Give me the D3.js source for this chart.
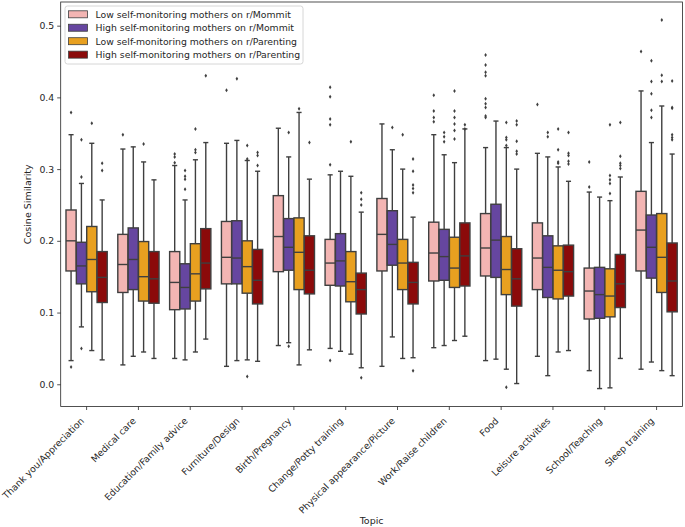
<!DOCTYPE html>
<html>
<head>
<meta charset="utf-8">
<script src="https://cdn.jsdelivr.net/npm/d3@7/dist/d3.min.js"></script>
<style>
  html, body { margin: 0; padding: 0; background: #fff; }
  text { font-family: "DejaVu Sans", sans-serif; fill: #262626; }
</style>
</head>
<body>
<svg id="chart" width="685" height="527"></svg>
<script>
// ---------- DATA ----------
const topics = ["Thank you/Appreciation", "Medical care", "Education/Family advice", "Furniture/Design",
  "Birth/Pregnancy", "Change/Potty training", "Physical appearance/Picture", "Work/Raise children",
  "Food", "Leisure activities", "School/Teaching", "Sleep training"];

const seriesNames = ["Low self-monitoring mothers on r/Mommit", "High self-monitoring mothers on r/Mommit",
  "Low self-monitoring mothers on r/Parenting", "High self-monitoring mothers on r/Parenting"];

const seriesColors = ["#f3b5b3", "#6646a0", "#e8a020", "#8b0a0a"];

const yTicks = [0.0, 0.1, 0.2, 0.3, 0.4, 0.5];

// [lower whisker, Q1, median, Q3, upper whisker] per topic
const lowMommit = [
  [0.033, 0.158, 0.200, 0.243, 0.348], [0.027, 0.128, 0.167, 0.209, 0.328], [0.036, 0.104, 0.142, 0.185, 0.305],
  [0.025, 0.140, 0.177, 0.227, 0.336], [0.054, 0.157, 0.206, 0.263, 0.357], [0.050, 0.138, 0.169, 0.202, 0.292],
  [0.025, 0.158, 0.209, 0.259, 0.363], [0.051, 0.144, 0.183, 0.226, 0.348], [0.033, 0.151, 0.190, 0.238, 0.330],
  [0.039, 0.132, 0.176, 0.225, 0.322], [0.019, 0.091, 0.130, 0.162, 0.268], [0.021, 0.158, 0.215, 0.269, 0.409]];
const highMommit = [
  [0.080, 0.140, 0.165, 0.198, 0.280], [0.039, 0.132, 0.174, 0.218, 0.331], [0.034, 0.105, 0.135, 0.168, 0.257],
  [0.033, 0.140, 0.176, 0.228, 0.340], [0.058, 0.159, 0.191, 0.231, 0.317], [0.046, 0.137, 0.172, 0.210, 0.297],
  [0.066, 0.166, 0.195, 0.242, 0.327], [0.054, 0.145, 0.178, 0.216, 0.320], [0.035, 0.149, 0.201, 0.251, 0.367],
  [0.012, 0.121, 0.163, 0.207, 0.317], [-0.006, 0.092, 0.125, 0.163, 0.261], [0.031, 0.148, 0.191, 0.236, 0.337]];
const lowParenting = [
  [0.047, 0.129, 0.174, 0.220, 0.336], [0.045, 0.116, 0.150, 0.199, 0.310], [0.045, 0.116, 0.154, 0.196, 0.313],
  [0.034, 0.127, 0.164, 0.200, 0.312], [0.027, 0.132, 0.184, 0.232, 0.379], [0.042, 0.115, 0.143, 0.185, 0.290],
  [0.036, 0.132, 0.169, 0.202, 0.300], [0.061, 0.135, 0.162, 0.205, 0.309], [0.021, 0.125, 0.160, 0.206, 0.330],
  [0.045, 0.119, 0.159, 0.193, 0.303], [-0.005, 0.094, 0.123, 0.161, 0.256], [0.019, 0.128, 0.177, 0.238, 0.388]];
const highParenting = [
  [0.034, 0.114, 0.149, 0.185, 0.257], [0.036, 0.113, 0.147, 0.185, 0.285], [0.063, 0.133, 0.169, 0.217, 0.337],
  [0.032, 0.112, 0.145, 0.188, 0.297], [0.048, 0.126, 0.159, 0.207, 0.286], [0.023, 0.098, 0.132, 0.155, 0.240],
  [0.037, 0.112, 0.142, 0.170, 0.233], [0.067, 0.137, 0.179, 0.225, 0.356], [0.001, 0.109, 0.147, 0.189, 0.300],
  [0.047, 0.123, 0.157, 0.194, 0.283], [0.036, 0.107, 0.140, 0.181, 0.289], [0.012, 0.101, 0.144, 0.197, 0.321]];

// outliers per topic
const lowMommitOut = [[0.379, 0.024], [0.348], [0.321, 0.317, 0.309], [0.410], [], [0.414, 0.401, 0.370, 0.362, 0.306, 0.033],
  [], [0.403, 0.381, 0.372, 0.366], [0.459, 0.445, 0.435, 0.430, 0.398, 0.391, 0.386, 0.374, 0.372], [0.390], [0.310, 0.275], [0.464]];
const highMommitOut = [[0.341, 0.289, 0.050], [], [0.298, 0.290, 0.286, 0.272], [0.426], [0.351, 0.053], [],
  [0.358], [0.351, 0.345, 0.338], [], [0.351, 0.345], [], [0.451, 0.422, 0.405, 0.382, 0.372]];
const lowParentingOut = [[0.364], [0.335], [0.356, 0.327, 0.323], [0.333, 0.314, 0.011], [0.384], [0.338],
  [0.348], [0.409, 0.381, 0.372, 0.363, 0.354, 0.342], [0.365, 0.344, 0.341, 0.333, -0.004], [0.356, 0.327, 0.310, 0.308],
  [0.362, 0.291, 0.285, 0.280, 0.266], [0.508, 0.431, 0.422]];
const highParentingOut = [[0.308, 0.298], [], [0.430], [0.323, 0.319, 0.305], [0.337], [0.267, 0.258, 0.250, 0.009],
  [0.314, 0.297, 0.278, 0.273, 0.267, 0.019], [0.362, 0.356], [0.367, 0.362, 0.339, 0.325, 0.321],
  [0.351, 0.322, 0.319, 0.311, 0.307], [0.365, 0.318, 0.308, 0.305, 0.301], [0.423, 0.386, 0.385, 0.348, 0.344, 0.341]];

const seriesStats = [lowMommit, highMommit, lowParenting, highParenting];
const seriesOut = [lowMommitOut, highMommitOut, lowParentingOut, highParentingOut];

// ---------- LAYOUT ----------
const svg = d3.select("#chart");
const pLeft = 60.7, pRight = 682.5, pTop = 2, pBottom = 406.5;
const edge = "#3f3f3f";

const x = d3.scaleBand().domain(topics).range([pLeft, pRight]).padding(0);
const inner = d3.scaleBand().domain(d3.range(4)).range([0, x.bandwidth() * 0.8]).padding(0);
const y = d3.scaleLinear().domain([-0.031, 0.533]).range([pBottom, pTop]);

// axes
const xAxis = d3.axisBottom(x).tickSize(3.5).tickSizeOuter(0).tickPadding(2);
const gx = svg.append("g").attr("transform", `translate(0,${pBottom})`).call(xAxis);
gx.select(".domain").remove();
gx.selectAll("line").attr("stroke", "#262626").attr("stroke-width", 0.8);
gx.selectAll("text")
  .attr("font-size", "9.3px")
  .attr("text-anchor", "end")
  .attr("dy", null).attr("y", null)
  .attr("transform", "translate(-2,15) rotate(-45)");

const yAxis = d3.axisLeft(y).tickValues(yTicks).tickFormat(d3.format(".1f")).tickSize(3.5).tickSizeOuter(0).tickPadding(3);
const gy = svg.append("g").attr("transform", `translate(${pLeft},0)`).call(yAxis);
gy.select(".domain").remove();
gy.selectAll("line").attr("stroke", "#262626").attr("stroke-width", 0.8);
gy.selectAll("text").attr("font-size", "9.3px");

// frame
svg.append("rect").attr("x", pLeft).attr("y", pTop).attr("width", pRight - pLeft).attr("height", pBottom - pTop)
  .attr("fill", "none").attr("stroke", "#262626").attr("stroke-width", 0.8);

// axis titles
svg.append("text").attr("x", (pLeft + pRight) / 2).attr("y", 524).attr("text-anchor", "middle")
  .attr("font-size", "9.5px").text("Topic");
svg.append("text").attr("transform", `translate(31,${(pTop + pBottom) / 2}) rotate(-90)`).attr("text-anchor", "middle")
  .attr("font-size", "9.5px").text("Cosine Similarity");

// boxes
const plot = svg.append("g");
const bw = inner.bandwidth() * 0.98;
seriesStats.forEach((stats, s) => {
  const g = plot.append("g");
  stats.forEach((st, i) => {
    const [lo, q1, med, q3, hi] = st;
    const x0 = x(topics[i]) + x.bandwidth() * 0.1 + inner(s) + (inner.bandwidth() - bw) / 2;
    const cx = x0 + bw / 2;
    const cap = bw * 0.5;
    g.append("line").attr("x1", cx).attr("x2", cx).attr("y1", y(q3)).attr("y2", y(hi))
      .attr("stroke", edge).attr("stroke-width", 1.4);
    g.append("line").attr("x1", cx).attr("x2", cx).attr("y1", y(q1)).attr("y2", y(lo))
      .attr("stroke", edge).attr("stroke-width", 1.4);
    g.append("line").attr("x1", cx - cap / 2).attr("x2", cx + cap / 2).attr("y1", y(hi)).attr("y2", y(hi))
      .attr("stroke", edge).attr("stroke-width", 1.4);
    g.append("line").attr("x1", cx - cap / 2).attr("x2", cx + cap / 2).attr("y1", y(lo)).attr("y2", y(lo))
      .attr("stroke", edge).attr("stroke-width", 1.4);
    g.append("rect").attr("x", x0).attr("y", y(q3)).attr("width", bw).attr("height", y(q1) - y(q3))
      .attr("fill", seriesColors[s]).attr("stroke", edge).attr("stroke-width", 1.4);
    g.append("line").attr("x1", x0).attr("x2", x0 + bw).attr("y1", y(med)).attr("y2", y(med))
      .attr("stroke", edge).attr("stroke-width", 1.4);
    seriesOut[s][i].forEach(v => {
      const py = y(v);
      g.append("path").attr("d", `M${cx},${py - 2} L${cx + 1.3},${py} L${cx},${py + 2} L${cx - 1.3},${py} Z`)
        .attr("fill", edge);
    });
  });
});

// legend
const lg = svg.append("g");
lg.append("rect").attr("x", 65).attr("y", 6).attr("width", 238).attr("height", 58).attr("rx", 2.5)
  .attr("fill", "#fff").attr("fill-opacity", 0.8).attr("stroke", "#cccccc").attr("stroke-width", 0.8);
seriesNames.forEach((name, i) => {
  const yy = 14.3 + i * 13.45;
  lg.append("rect").attr("x", 68.5).attr("y", yy - 3.5).attr("width", 19).attr("height", 7)
    .attr("fill", seriesColors[i]).attr("stroke", edge).attr("stroke-width", 0.8);
  lg.append("text").attr("x", 95.5).attr("y", yy + 3.4).attr("font-size", "9.3px").text(name);
});
</script>
</body>
</html>
